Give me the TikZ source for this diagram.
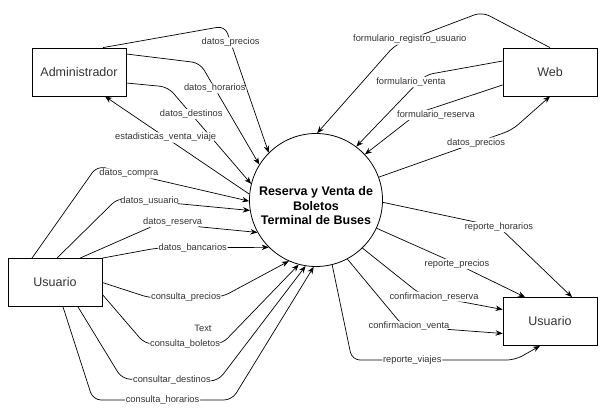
\documentclass[tikz,border=0pt]{standalone}
\usepackage{fontspec}
\setmainfont{Liberation Sans}
\usepackage{tikz}
\usetikzlibrary{arrows.meta}

\begin{document}
\begin{tikzpicture}[
  x=1pt, y=-1pt,
  entity/.style={rectangle, draw, line width=0.8pt, minimum width=94pt, minimum height=48pt, font=\fontsize{12.5}{14}\selectfont, text=black!80},
  proc/.style={circle, draw, line width=0.8pt, minimum size=133pt, inner sep=0pt},
  proctext/.style={align=center, font=\fontsize{12.5}{14.5}\selectfont\bfseries},
  flow/.style={-{Stealth[length=7pt, width=5.5pt]}, line width=0.7pt, rounded corners=8pt},
  lbl/.style={fill=white, inner sep=0.8pt, font=\fontsize{9.3}{11}\selectfont, text=black!80}
]
  \useasboundingbox (0,0) rectangle (610,420);

  \node (adm) [entity] at (79,72) {Administrador};
  \node (web) [entity] at (550,72) {Web};
  \node (usl) [entity] at (55,282.5) {Usuario};
  \node (usr) [entity] at (550,321.5) {Usuario};
  \node (proc) [proc] at (316,200) {};
  \node (proctext) [proctext] at ([yshift=-6pt]proc.center) {Reserva y Venta de\\Boletos\\Terminal de Buses};
  \node (txt) [lbl] at (203,328) {Text};

  % Administrador
  \draw[flow] ([xshift=24pt]adm.north) -- (225,26) -- node[lbl, pos=0.13] {datos\_precios} (proc.135);
  \draw[flow] ([yshift=18pt]adm.east) -- (200,63) -- node[lbl, pos=0.25] {datos\_horarios} (proc.148);
  \draw[flow] ([yshift=-11pt]adm.east) -- (168,87) -- node[lbl, pos=0.28] {datos\_destinos} (proc.166);
  \draw[flow] (proc.175) -- node[lbl, pos=0.58] {estadisticas\_venta\_viaje} ([xshift=26pt]adm.south);

  % Usuario -> proceso
  \draw[flow] ([xshift=-23pt]usl.north) -- (97,166) -- node[lbl, pos=0.21] {datos\_compra} (proc.181);
  \draw[flow] ([xshift=2pt]usl.north) -- (118,198) -- node[lbl, pos=0.24] {datos\_usuario} (proc.189);
  \draw[flow] ([xshift=25pt]usl.north) -- (160,223) -- node[lbl, pos=0.13, yshift=2pt] {datos\_reserva} (proc.209);
  \draw[flow] (usl.north east) -- (157,248) -- node[lbl, pos=0.32] {datos\_bancarios} (proc.225);
  \draw[flow] (usl.east) -- (150,298) -- node[lbl] {consulta\_precios} (222,297) -- (proc.246);
  \draw[flow] ([yshift=-12pt]usl.east) -- (145,344) -- node[lbl, pos=0.52] {consulta\_boletos} (222,344) -- (proc.255);
  \draw[flow] ([xshift=23pt]usl.south) -- (122,379) -- node[lbl, pos=0.52] {consultar\_destinos} (218,381) -- (proc.261);
  \draw[flow] ([xshift=8pt]usl.south) -- (93,400) -- node[lbl] {consulta\_horarios} (232,400) -- (proc.268);

  % proceso -> Usuario
  \draw[flow] (proc.358) -- (499,227) node[lbl] {reporte\_horarios} -- ([xshift=22pt]usr.north);
  \draw[flow] (proc.335) -- (457,264) node[lbl] {reporte\_precios} -- ([xshift=-25pt]usr.north);
  \draw[flow] (proc.314) -- (420,294) -- node[lbl, pos=0.17] {confirmacion\_reserva} ([yshift=12pt]usr.west);
  \draw[flow] (proc.298) -- (403,326) -- node[lbl, pos=0.06] {confirmacion\_venta} ([yshift=-12pt]usr.west);
  \draw[flow] (proc.284) -- (352,360) -- node[lbl, pos=0.37] {reporte\_viajes} (515,360) -- ([xshift=-10pt]usr.south);

  % Web
  \draw[flow] (web.north) -- (482,12) -- node[lbl, pos=0.83] {formulario\_registro\_usuario} (395,45) -- (proc.89);
  \draw[flow] ([yshift=11pt]web.west) -- (425,75) node[lbl, xshift=-14pt, yshift=-7pt] {formulario\_venta} -- (proc.53);
  \draw[flow] ([yshift=-13pt]web.west) -- (418,113) node[lbl, xshift=18pt, yshift=-2pt] {formulario\_reserva} -- (proc.43);
  \draw[flow] (proc.20) -- node[lbl, pos=0.73] {datos\_precios} (512,130) -- (web.south);
\end{tikzpicture}
\end{document}
